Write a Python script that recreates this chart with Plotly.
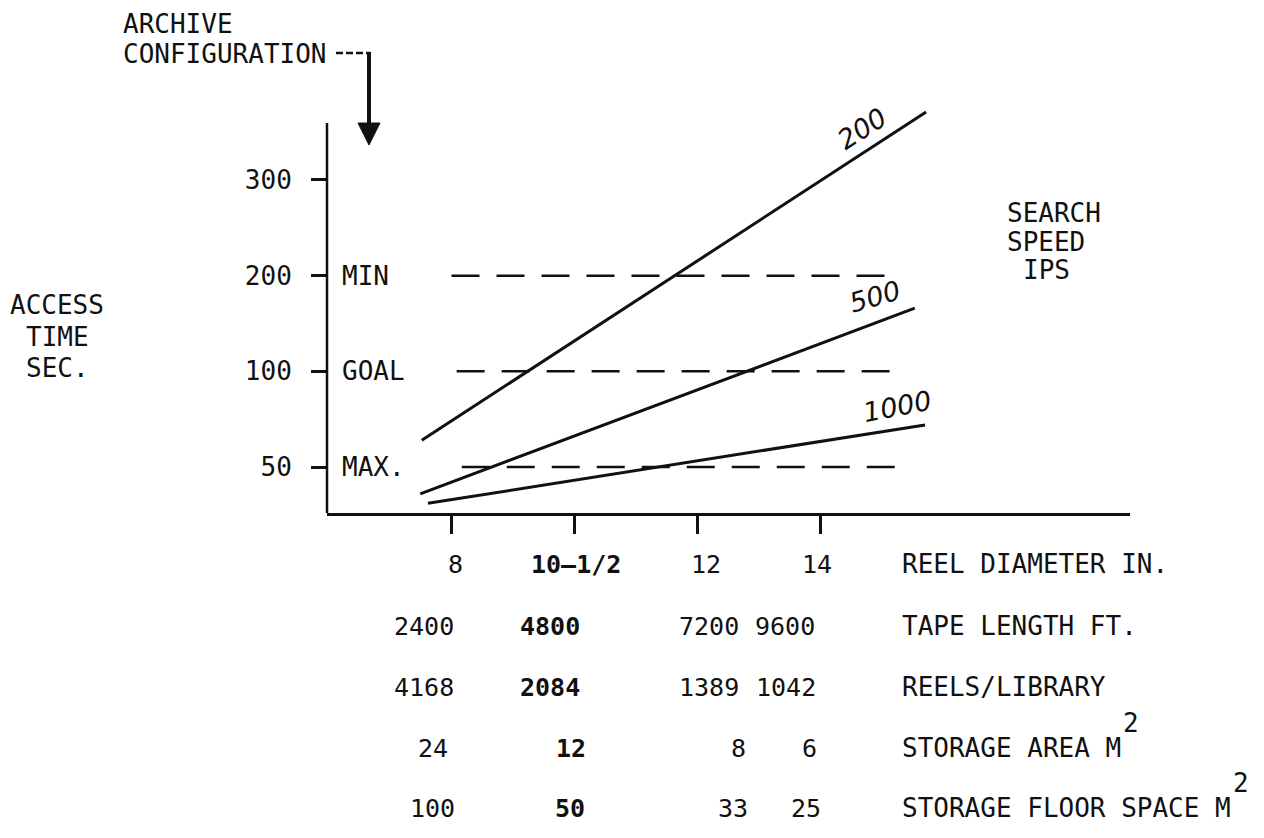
import numpy as np
import plotly.graph_objects as go

# ---------------- data ----------------
ACCESS_TICKS = [50, 100, 200, 300]                 # access time, seconds (y tick labels)
TAPE_LENGTH_FT = [2400, 4800, 7200, 9600]           # x columns
REEL_DIAMETER = ["8", "10\u20141/2", "12", "14"]
REELS_PER_LIBRARY = [4168, 2084, 1389, 1042]
STORAGE_AREA_M2 = [24, 12, 8, 6]
FLOOR_SPACE_M2 = [100, 50, 33, 25]
ARCHIVE_INDEX = 1                                   # bold column (archive configuration)

THRESHOLD_NAMES = ["MIN", "GOAL", "MAX."]
THRESHOLD_SEC = [200, 100, 50]
THRESHOLD_X0 = [2400, 2500, 2600]
THRESHOLD_X1 = [11100, 11000, 11100]

SEARCH_SPEED_IPS = [200, 500, 1000]
LINE_X0_FT = [1820, 1790, 1940]
LINE_X1_FT = [11660, 11440, 11640]
LINE_T0_SEC = [64, 36, 31]
LINE_T1_SEC = [371, 166, 72]

# ---------------- layout helpers ----------------
OFF = 8                      # page body margin: reference pixel = figure pixel + OFF
W, H = 1248, 822
ML = 327 - OFF               # plot area left   (ref px 327)
MR = W - (1130 - OFF)        # plot area right  (ref px 1130)
MT = 100 - OFF               # plot area top    (ref px 100)
MB = H - (513 - OFF)         # plot area bottom (ref px 513)
PW, PH = W - ML - MR, H - MT - MB
FONT = "DejaVu Sans Mono"
INK = "#111111"


def px_x(px):
    """reference-image x pixel -> paper coordinate"""
    return (px - OFF - ML) / PW


def px_y(py):
    """reference-image y pixel -> paper coordinate"""
    return (H - MB - (py - OFF)) / PH


def to_axis(seconds):
    """Map seconds onto the chart's evenly spaced (piecewise) access-time scale."""
    t = np.atleast_1d(np.asarray(seconds, dtype=float))
    ticks = np.asarray(ACCESS_TICKS, dtype=float)
    pos = np.arange(1, len(ticks) + 1, dtype=float)
    out = np.interp(t, ticks, pos)
    lo = t < ticks[0]
    out[lo] = pos[0] - (ticks[0] - t[lo]) / (ticks[1] - ticks[0])
    hi = t > ticks[-1]
    out[hi] = pos[-1] + (t[hi] - ticks[-1]) / (ticks[-1] - ticks[-2])
    return out


fig = go.Figure()

# dashed requirement lines
for name, sec, x0, x1 in zip(THRESHOLD_NAMES, THRESHOLD_SEC, THRESHOLD_X0, THRESHOLD_X1):
    yy = to_axis([sec, sec])
    fig.add_trace(go.Scatter(x=[x0, x1], y=yy, mode="lines",
                             line=dict(color=INK, width=2.5, dash="28px,17px"),
                             hoverinfo="skip", showlegend=False))

# search speed lines
for spd, x0, x1, t0, t1 in zip(SEARCH_SPEED_IPS, LINE_X0_FT, LINE_X1_FT, LINE_T0_SEC, LINE_T1_SEC):
    fig.add_trace(go.Scatter(x=[x0, x1], y=to_axis([t0, t1]), mode="lines",
                             line=dict(color=INK, width=3),
                             name=f"{spd} IPS", showlegend=False))

annotations = []

# line labels (handwritten style)
LABEL_SHIFT = [(-64, -16, -33), (-40, 12, -16), (-28, 18, -11)]
for spd, x1, t1, (dx, dy, ang) in zip(SEARCH_SPEED_IPS, LINE_X1_FT, LINE_T1_SEC, LABEL_SHIFT):
    annotations.append(dict(x=x1, y=float(to_axis(t1)[0]), xref="x", yref="y",
                            text=str(spd), showarrow=False, textangle=ang,
                            xshift=dx, yshift=dy,
                            font=dict(family="DejaVu Sans", size=27, color=INK, style="italic")))

# threshold names inside axis
for name, sec in zip(THRESHOLD_NAMES, THRESHOLD_SEC):
    annotations.append(dict(x=px_x(340), y=float(to_axis(sec)[0]), xref="paper", yref="y",
                            text=name, showarrow=False, xanchor="left", yanchor="middle",
                            font=dict(family=FONT, size=26, color=INK)))

# y title
for txt, lx, ly in [("ACCESS", 8, 305), ("TIME", 24, 337), ("SEC.", 24, 368)]:
    annotations.append(dict(x=px_x(lx), y=px_y(ly), xref="paper", yref="paper", text=txt,
                            showarrow=False, xanchor="left", yanchor="middle",
                            font=dict(family=FONT, size=26, color=INK)))

# search speed legend title
for txt, lx, ly in [("SEARCH", 1005, 213), ("SPEED", 1005, 242), ("IPS", 1021, 270)]:
    annotations.append(dict(x=px_x(lx), y=px_y(ly), xref="paper", yref="paper", text=txt,
                            showarrow=False, xanchor="left", yanchor="middle",
                            font=dict(family=FONT, size=26, color=INK)))

# archive configuration label
for txt, ly in [("ARCHIVE", 24), ("CONFIGURATION", 54)]:
    annotations.append(dict(x=px_x(122), y=px_y(ly), xref="paper", yref="paper", text=txt,
                            showarrow=False, xanchor="left", yanchor="middle", borderpad=0,
                            font=dict(family=FONT, size=26, color=INK)))

# table under the x axis
ROWS = [
    (REEL_DIAMETER, "REEL DIAMETER IN.", 564, [4, 1, 8, -4]),
    (TAPE_LENGTH_FT, "TAPE LENGTH FT.", 626, [-28, -25, 11, -36]),
    (REELS_PER_LIBRARY, "REELS/LIBRARY", 687, [-28, -25, 11, -35]),
    (STORAGE_AREA_M2, "STORAGE AREA M", 748, [-19, -4, 41, -11]),
    (FLOOR_SPACE_M2, "STORAGE FLOOR SPACE M", 808, [-19, -5, 35, -15]),
]
for vals, label, ry, shifts in ROWS:
    for i, (v, xc, sh) in enumerate(zip(vals, TAPE_LENGTH_FT, shifts)):
        bold = i == ARCHIVE_INDEX
        annotations.append(dict(x=xc, y=px_y(ry), xref="x", yref="paper", text=str(v),
                                showarrow=False, xanchor="center", yanchor="middle", xshift=sh,
                                font=dict(family=FONT, size=25, color=INK,
                                          weight="bold" if bold else "normal")))
    annotations.append(dict(x=px_x(900), y=px_y(ry), xref="paper", yref="paper", text=label,
                            showarrow=False, xanchor="left", yanchor="middle",
                            font=dict(family=FONT, size=26, color=INK)))
    if label.endswith(" M"):
        annotations.append(dict(x=px_x(900 + len(label) * 15.65 + 2), y=px_y(ry - 25),
                                xref="paper", yref="paper", text="2",
                                showarrow=False, xanchor="left", yanchor="middle",
                                font=dict(family=FONT, size=26, color=INK)))

shapes = [
    # y axis line (stops at top of scale)
    dict(type="line", xref="paper", yref="paper", x0=0, x1=0, y0=0, y1=px_y(123),
         line=dict(color=INK, width=2.5)),
    # arrow from archive configuration label
    dict(type="line", xref="paper", yref="paper", x0=px_x(336), x1=px_x(370),
         y0=px_y(53), y1=px_y(53), line=dict(color=INK, width=2.5, dash="7px,3px")),
    dict(type="line", xref="paper", yref="paper", x0=px_x(369), x1=px_x(369),
         y0=px_y(52), y1=px_y(126), line=dict(color=INK, width=4)),
    dict(type="path", xref="paper", yref="paper",
         path=(f"M {px_x(358)} {px_y(123)} L {px_x(380)} {px_y(123)} "
               f"L {px_x(369)} {px_y(145)} Z"),
         fillcolor=INK, line=dict(color=INK, width=1)),
]

# axis ranges: 2400 ft every 123 px, first column at ref px 451.5;
# access-time scale: one tick step every 95.67 px, 50 s at ref px 467
x_lo = 2400 - (451.5 - 327) * 2400 / 123
x_hi = 2400 + (1130 - 451.5) * 2400 / 123
y_lo = 1 - (513 - 467) / 95.67
y_hi = 1 + (467 - 100) / 95.67

fig.update_layout(
    width=W, height=H,
    margin=dict(l=ML, r=MR, t=MT, b=MB, pad=0),
    paper_bgcolor="white", plot_bgcolor="white",
    showlegend=False,
    annotations=annotations, shapes=shapes,
    xaxis=dict(range=[x_lo, x_hi], showgrid=False, zeroline=False, showline=True,
               linecolor=INK, linewidth=2.5, ticks="outside", ticklen=18, tickwidth=2.5,
               tickcolor=INK, tickvals=TAPE_LENGTH_FT, showticklabels=False,
               automargin=False, fixedrange=True),
    yaxis=dict(range=[y_lo, y_hi], showgrid=False, zeroline=False, showline=False,
               ticks="outside", ticklen=15, tickwidth=2.5, tickcolor=INK,
               tickvals=list(range(1, len(ACCESS_TICKS) + 1)),
               ticktext=[str(t) for t in ACCESS_TICKS], ticklabelstandoff=14,
               tickfont=dict(family=FONT, size=26, color=INK),
               automargin=False, fixedrange=True),
)

fig.write_html("out.html")
